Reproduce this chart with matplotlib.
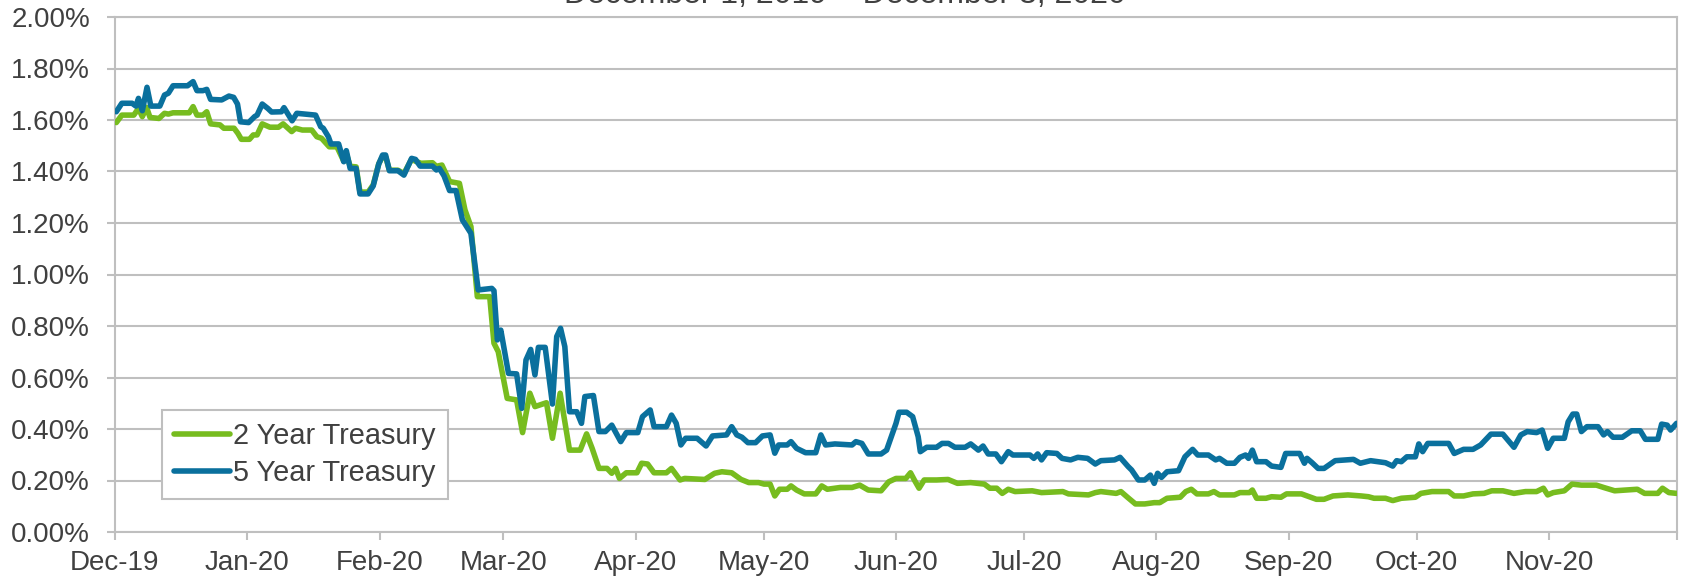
import numpy as np
import pandas as pd
import matplotlib
matplotlib.use("Agg")
import matplotlib.pyplot as plt
from matplotlib.ticker import FuncFormatter

plt.rcParams['font.family'] = ['Liberation Sans', 'DejaVu Sans']

# days after 1 Dec 2019, yields in percent
days_5y = [0.3, 1.6, 4.0, 4.9, 5.5, 6.4, 7.5, 8.4, 10.5, 11.6, 12.5, 13.6, 17.0, 18.3, 19.2, 20.6,
           21.5, 22.4, 25.0, 26.7, 27.8, 28.7, 29.4, 31.3, 32.7, 33.3, 34.5, 35.8, 36.7, 39.0, 39.6,
           41.5, 42.6, 47.0, 48.2, 48.8, 50.0, 50.6, 52.4, 53.6, 54.2, 55.1, 56.5, 57.4, 59.3, 60.5,
           61.8, 62.7, 63.4, 64.3, 66.3, 67.7, 69.5, 70.4, 71.5, 74.4, 75.3, 76.0, 77.1, 78.4, 79.9,
           81.4, 83.4, 85.1, 88.3, 88.8, 89.6, 90.4, 92.2, 94.1, 95.3, 96.3, 97.4, 98.4, 99.2, 100.8,
           102.5, 103.5, 104.4, 105.4, 106.5, 108.2, 109.3, 110.1, 112.1, 113.4, 114.9, 116.4, 118.5,
           119.8, 122.5, 123.6, 125.4, 126.3, 129.2, 130.4, 131.5, 132.6, 133.7, 136.4, 138.5, 140.0,
           143.3, 144.5, 145.7, 146.9, 148.3, 150.1, 151.7, 153.5, 154.6, 155.5, 157.5, 158.4, 159.7,
           161.8, 164.2, 165.4, 166.5, 168.7, 172.7, 173.6, 175.0, 176.5, 179.5, 180.8, 183.0, 183.7,
           185.5, 186.9, 188.2, 188.7, 190.2, 192.5, 193.8, 195.3, 196.8, 199.2, 200.5, 202.3, 203.4,
           204.6, 206.4, 207.7, 209.3, 210.4, 214.4, 215.3, 216.2, 217.1, 218.3, 220.7, 221.9, 223.9,
           225.6, 227.9, 229.7, 231.0, 234.2, 235.5, 237.4, 238.2, 239.8, 241.3, 242.6, 243.5, 244.3,
           245.2, 246.5, 249.2, 250.7, 252.5, 253.7, 256.2, 257.9, 258.8, 260.5, 262.3, 263.6, 264.9,
           265.6, 266.5, 267.5, 269.7, 271.0, 273.2, 274.3, 277.6, 278.7, 279.3, 280.5, 281.9, 283.3,
           285.9, 287.6, 290.2, 291.8, 294.2, 297.7, 299.4, 300.3, 301.4, 302.7, 304.7, 305.5, 306.4,
           307.6, 312.5, 313.8, 316.0, 318.2, 320.0, 322.4, 325.2, 327.8, 329.4, 330.9, 333.1, 334.4,
           335.7, 337.0, 339.6, 340.5, 341.6, 342.5, 343.6, 344.9, 347.5, 348.8, 349.7, 351.0, 353.2,
           355.4, 357.4, 358.6, 361.5, 362.4, 363.7, 364.5, 365.9]
yield_5y = [1.632, 1.665, 1.665, 1.654, 1.684, 1.636, 1.727, 1.654, 1.654, 1.697, 1.704, 1.733, 1.733,
            1.749, 1.714, 1.714, 1.719, 1.680, 1.678, 1.693, 1.688, 1.662, 1.593, 1.590, 1.613, 1.619,
            1.662, 1.645, 1.631, 1.632, 1.648, 1.597, 1.626, 1.619, 1.574, 1.568, 1.535, 1.507, 1.507,
            1.438, 1.481, 1.412, 1.412, 1.313, 1.313, 1.344, 1.429, 1.464, 1.464, 1.403, 1.403, 1.386,
            1.451, 1.447, 1.421, 1.421, 1.406, 1.412, 1.383, 1.326, 1.326, 1.212, 1.160, 0.940, 0.946,
            0.937, 0.746, 0.784, 0.616, 0.614, 0.480, 0.668, 0.709, 0.610, 0.717, 0.717, 0.497, 0.759,
            0.791, 0.720, 0.467, 0.467, 0.422, 0.526, 0.530, 0.390, 0.390, 0.415, 0.351, 0.386, 0.386,
            0.448, 0.474, 0.409, 0.409, 0.454, 0.422, 0.338, 0.364, 0.364, 0.334, 0.373, 0.377, 0.409,
            0.377, 0.368, 0.347, 0.347, 0.373, 0.377, 0.306, 0.338, 0.338, 0.351, 0.325, 0.308, 0.308,
            0.377, 0.338, 0.342, 0.338, 0.351, 0.344, 0.303, 0.303, 0.318, 0.422, 0.465, 0.465, 0.448,
            0.370, 0.312, 0.329, 0.329, 0.344, 0.344, 0.329, 0.329, 0.342, 0.318, 0.334, 0.303, 0.303,
            0.273, 0.312, 0.299, 0.299, 0.286, 0.303, 0.280, 0.308, 0.305, 0.286, 0.280, 0.290, 0.286,
            0.264, 0.277, 0.280, 0.290, 0.254, 0.241, 0.202, 0.202, 0.221, 0.189, 0.228, 0.212, 0.234,
            0.238, 0.292, 0.321, 0.299, 0.299, 0.280, 0.286, 0.267, 0.267, 0.290, 0.299, 0.286, 0.318,
            0.273, 0.273, 0.256, 0.251, 0.305, 0.305, 0.267, 0.286, 0.269, 0.247, 0.247, 0.277, 0.279,
            0.282, 0.267, 0.277, 0.269, 0.256, 0.277, 0.273, 0.292, 0.292, 0.342, 0.312, 0.344, 0.344,
            0.305, 0.321, 0.321, 0.338, 0.380, 0.380, 0.329, 0.377, 0.390, 0.386, 0.396, 0.325, 0.364,
            0.364, 0.428, 0.458, 0.458, 0.390, 0.409, 0.409, 0.377, 0.390, 0.368, 0.368, 0.393, 0.393,
            0.360, 0.360, 0.419, 0.415, 0.396, 0.422]

days_2y = [0.3, 1.6, 4.4, 5.5, 6.4, 7.4, 8.2, 10.3, 11.6, 12.5, 13.6, 17.4, 18.3, 19.2, 20.6, 21.5,
           22.4, 24.6, 25.5, 27.9, 28.8, 29.6, 31.5, 32.4, 33.3, 34.5, 36.3, 38.3, 39.4, 41.4, 42.3,
           43.9, 46.1, 47.3, 48.4, 50.2, 52.0, 53.6, 54.2, 55.1, 56.5, 57.4, 59.3, 60.5, 61.8, 62.7,
           63.4, 64.3, 66.3, 67.7, 69.5, 70.4, 71.7, 74.4, 75.3, 76.6, 78.4, 80.7, 82.0, 83.4, 84.9,
           87.8, 88.8, 89.8, 91.9, 94.1, 95.5, 97.2, 98.4, 101.1, 102.5, 104.3, 106.5, 109.0, 110.5,
           111.8, 113.4, 115.3, 116.4, 117.3, 118.2, 119.8, 122.3, 123.4, 124.8, 126.3, 129.2, 130.4,
           132.4, 133.5, 138.2, 140.5, 142.2, 144.5, 146.7, 148.5, 150.8, 152.1, 153.5, 154.6, 155.7,
           157.5, 158.4, 159.7, 161.5, 164.2, 165.6, 166.9, 170.0, 172.7, 174.5, 176.5, 179.5, 181.3,
           183.0, 185.3, 186.4, 187.3, 188.4, 189.6, 192.5, 195.2, 197.4, 200.5, 203.7, 205.0, 206.6,
           207.9, 209.3, 210.9, 214.9, 217.1, 222.1, 223.4, 228.1, 229.7, 231.0, 234.6, 235.7, 237.3,
           239.1, 241.3, 243.5, 244.8, 246.5, 249.6, 250.9, 252.2, 253.5, 256.2, 257.5, 258.8, 262.3,
           263.6, 265.8, 266.5, 267.5, 269.7, 271.0, 273.2, 274.5, 278.0, 279.8, 281.5, 283.3, 285.4,
           288.9, 292.0, 293.7, 295.0, 297.7, 299.4, 301.4, 304.7, 306.0, 308.6, 312.5, 313.8, 316.0,
           318.2, 320.8, 322.6, 325.2, 327.8, 330.5, 333.1, 334.7, 335.7, 337.0, 339.6, 341.4, 343.6,
           347.1, 348.8, 351.4, 356.7, 358.4, 361.5, 362.6, 364.1, 365.9]
yield_2y = [1.590, 1.619, 1.619, 1.645, 1.613, 1.649, 1.610, 1.606, 1.626, 1.623, 1.628, 1.628, 1.652,
            1.619, 1.619, 1.632, 1.585, 1.581, 1.568, 1.568, 1.548, 1.525, 1.525, 1.542, 1.542, 1.585,
            1.572, 1.572, 1.585, 1.555, 1.568, 1.561, 1.561, 1.535, 1.529, 1.496, 1.496, 1.440, 1.470,
            1.420, 1.418, 1.320, 1.320, 1.348, 1.430, 1.458, 1.458, 1.405, 1.405, 1.392, 1.448, 1.440,
            1.432, 1.434, 1.420, 1.425, 1.361, 1.354, 1.251, 1.186, 0.914, 0.914, 0.733, 0.700, 0.519,
            0.513, 0.386, 0.539, 0.487, 0.502, 0.364, 0.539, 0.318, 0.318, 0.381, 0.325, 0.247, 0.247,
            0.228, 0.247, 0.208, 0.230, 0.230, 0.267, 0.264, 0.230, 0.230, 0.247, 0.202, 0.208, 0.204,
            0.228, 0.234, 0.230, 0.204, 0.192, 0.192, 0.186, 0.186, 0.140, 0.166, 0.166, 0.179, 0.163,
            0.148, 0.148, 0.179, 0.166, 0.173, 0.173, 0.182, 0.163, 0.160, 0.195, 0.208, 0.208, 0.230,
            0.202, 0.170, 0.202, 0.202, 0.204, 0.189, 0.192, 0.186, 0.170, 0.170, 0.150, 0.166, 0.157,
            0.160, 0.153, 0.157, 0.148, 0.144, 0.153, 0.157, 0.150, 0.157, 0.134, 0.109, 0.109, 0.114,
            0.114, 0.131, 0.135, 0.157, 0.166, 0.148, 0.148, 0.157, 0.144, 0.144, 0.153, 0.153, 0.163,
            0.131, 0.131, 0.137, 0.135, 0.148, 0.148, 0.137, 0.127, 0.127, 0.140, 0.144, 0.140, 0.137,
            0.131, 0.131, 0.122, 0.131, 0.135, 0.150, 0.157, 0.157, 0.140, 0.140, 0.148, 0.150, 0.160,
            0.160, 0.150, 0.157, 0.157, 0.170, 0.144, 0.153, 0.160, 0.186, 0.182, 0.182, 0.173, 0.160,
            0.166, 0.150, 0.150, 0.170, 0.153, 0.150]

labels = ['2 Year Treasury', '5 Year Treasury']
title = 'December 1, 2019 \u2013 December 3, 2020'

start = pd.Timestamp('2019-12-01')
end = pd.Timestamp('2020-12-01')
x2 = start + pd.to_timedelta(days_2y, unit='D')
x5 = start + pd.to_timedelta(days_5y, unit='D')

green = '#77BC1F'
blue = '#0A709D'
grid_c = '#BFBFBF'
txt_c = '#404040'

fig = plt.figure(figsize=(16.85, 5.8), dpi=100)
ax = fig.add_axes([115 / 1685, 48 / 580, 1562 / 1685, 515 / 580])

ax.plot(x2, yield_2y, color=green, lw=4.0, label=labels[0],
        solid_joinstyle='round', solid_capstyle='round', zorder=3)
ax.plot(x5, yield_5y, color=blue, lw=4.0, label=labels[1],
        solid_joinstyle='round', solid_capstyle='round', zorder=4)

ax.set_xlim(start, end)
ax.set_ylim(0, 2.0)
ax.set_yticks(np.arange(0, 2.01, 0.2))
ax.yaxis.set_major_formatter(FuncFormatter(lambda v, p: '%.2f%%' % v))

months = pd.date_range('2019-12-01', '2020-12-01', freq='MS')
ax.set_xticks(months)
ax.set_xticklabels([m.strftime('%b-%y') for m in months[:-1]] + [''])

ax.grid(axis='y', color=grid_c, lw=1.5)
ax.set_axisbelow(True)
for s in ax.spines.values():
    s.set_color(grid_c)
    s.set_linewidth(1.5)

ax.tick_params(axis='x', length=6, width=1.5, color=grid_c, labelsize=20,
               labelcolor=txt_c, pad=7)
ax.tick_params(axis='y', length=6, width=1.5, color=grid_c, labelsize=20,
               labelcolor=txt_c, pad=12)

leg = ax.legend(loc='lower left', bbox_to_anchor=(162 / 1685, 81 / 580),
                bbox_transform=fig.transFigure, borderaxespad=0, fontsize=20.8,
                handlelength=1.95, handletextpad=0.1, borderpad=0.42,
                labelspacing=0.3, fancybox=False, framealpha=1,
                edgecolor=grid_c)
leg.get_frame().set_linewidth(1.5)
for t in leg.get_texts():
    t.set_color(txt_c)

fig.text(845 / 1685, 1 - 3 / 580, title, ha='center', va='baseline',
         fontsize=23, color=txt_c)

fig.savefig('out.png', dpi=100)
